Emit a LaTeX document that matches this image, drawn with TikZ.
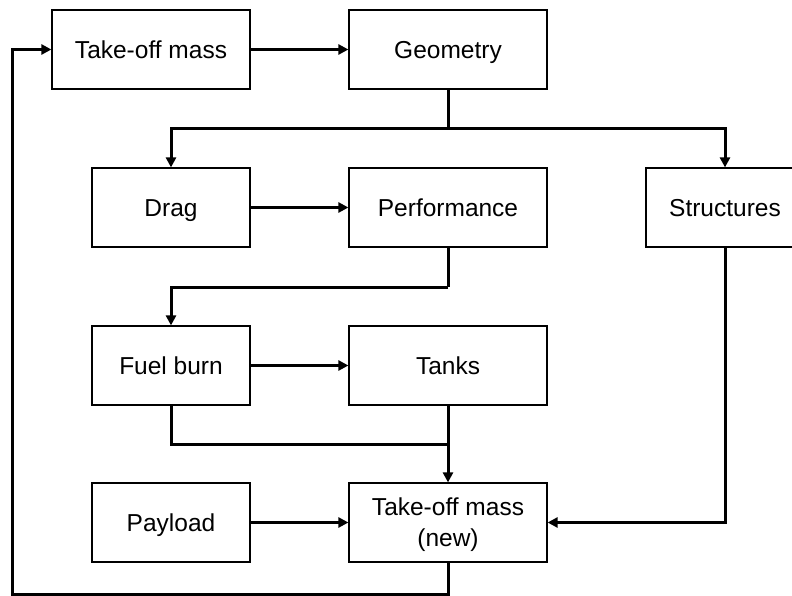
\documentclass[tikz,border=0pt]{standalone}
\usepackage{fontspec}
\setmainfont{Liberation Sans}
\usetikzlibrary{arrows.meta}

\begin{document}
\begin{tikzpicture}[
	x=1pt, y=-1pt,
	block/.style={rectangle, draw=black, line width=1.2pt, minimum height=79pt, minimum width=158pt, inner sep=0pt, align=center, font=\fontsize{24.5}{31}\selectfont, text height=17.5pt, text depth=0pt},
	wideblock/.style={block, minimum width=198pt},
	link/.style={line width=3pt},
	flow/.style={link, -{Triangle[length=10pt, width=10pt]}},
	]
	\useasboundingbox (0,0) rectangle (792,596);

	\node[wideblock] at (151, 49.5) (takeoff) {Take-off mass};
	\node[wideblock] at (448, 49.5) (geometry) {Geometry};

	\node[block] at (171, 207.5) (drag) {Drag};
	\node[wideblock] at (448, 207.5) (performance) {Performance};
	\node[block] at (725, 207.5) (structures) {Structures};

	\node[block] at (171, 365.5) (fuelburn) {Fuel burn};
	\node[wideblock] at (448, 365.5) (tanks) {Tanks};

	\node[block] at (171, 522.5) (payload) {Payload};
	\node[wideblock, text height=48.5pt] at (448, 522.5) (newmass) {Take-off mass\\(new)};

	\coordinate (split) at (448, 129);
	\coordinate (bend) at (448, 287);
	\coordinate (merge) at (448, 444);
	\coordinate (loop) at (12, 594);

	\draw[flow] (takeoff) to (geometry);
	\draw[link] (geometry) -- (split);
	\draw[flow] (split) -| (drag);
	\draw[flow] (split) -| (structures);
	\draw[flow] (drag) to (performance);
	\draw[link] (performance) -- (bend);
	\draw[flow] (bend) -| (fuelburn);
	\draw[flow] (fuelburn) to (tanks);
	\draw[link] (fuelburn) |- (merge);
	\draw[flow] (tanks) to (newmass);
	\draw[flow] (payload) to (newmass);
	\draw[flow] (structures) |- (newmass);
	\draw[flow] (newmass) |- (loop) |- (takeoff);
\end{tikzpicture}
\end{document}
